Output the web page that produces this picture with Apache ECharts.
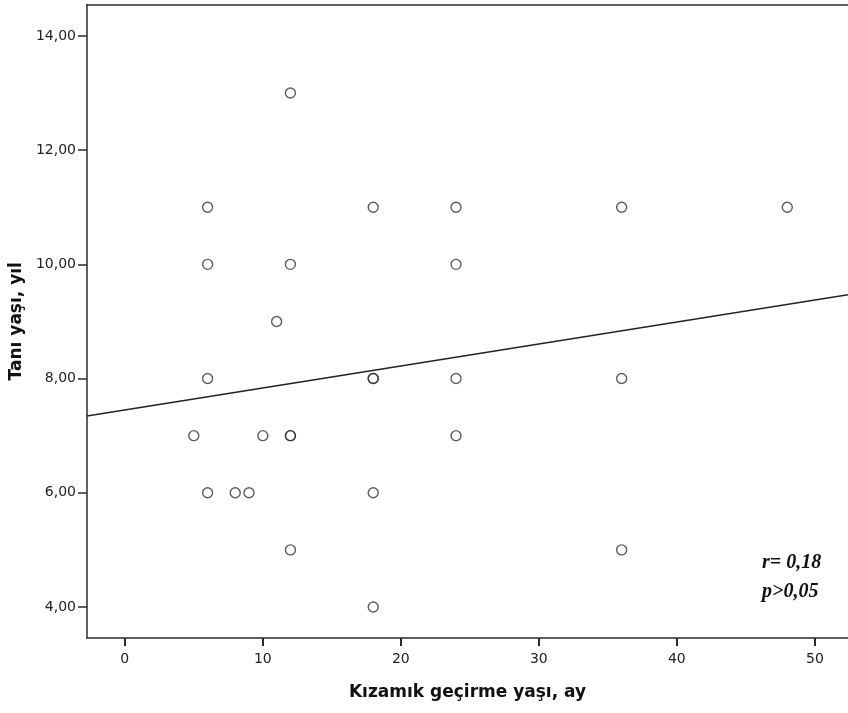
<!DOCTYPE html>
<html><head><meta charset="utf-8">
<script src="https://cdn.jsdelivr.net/npm/echarts@6/dist/echarts.min.js"></script>
<style>html,body{margin:0;padding:0;background:#fff}#c{width:848px;height:713px}</style>
</head><body><div id="c"></div>
<script>
const ageMonths = [6, 6, 6, 5, 6, 8, 9, 10, 11, 12, 12, 12, 12, 12, 18, 18, 18, 18, 18, 24, 24, 24, 24, 36, 36, 36, 48];
const diagAge   = [11, 10, 8, 7, 6, 6, 6, 7, 9, 13, 10, 7, 7, 5, 11, 8, 8, 6, 4, 11, 10, 8, 7, 11, 8, 5, 11];
const yTicks = [4, 6, 8, 10, 12, 14];
const xTicks = [0, 10, 20, 30, 40, 50];
const fitIntercept = 7.45;
const fitSlope = 0.0385;
const xMin = -2.74, xMax = 52.40, yMin = 3.457, yMax = 14.55;

const points = ageMonths.map((a, i) => [a, diagAge[i]]);
const fitLine = [[xMin, fitIntercept + fitSlope * xMin], [xMax, fitIntercept + fitSlope * xMax]];

const chart = echarts.init(document.getElementById('c'));
const axisCol = '#2b2b2b';
const labelFont = 'DejaVu Sans';
chart.setOption({
  animation: false,
  backgroundColor: '#fff',
  grid: {left: 86, top: 4.5, right: -3, bottom: 75, show: false},
  xAxis: [{
    type: 'value', min: xMin, max: xMax, position: 'bottom',
    name: 'Kızamık geçirme yaşı, ay', nameLocation: 'middle', nameGap: 46,
    nameTextStyle: {fontFamily: labelFont, fontWeight: 'bold', fontSize: 17, color: '#111'},
    splitLine: {show: false},
    axisLine: {show: true, onZero: false, lineStyle: {color: axisCol, width: 1.5}},
    axisTick: {show: true, length: 8, lineStyle: {color: axisCol, width: 2}, customValues: xTicks},
    axisLabel: {customValues: xTicks, fontFamily: labelFont, fontSize: 14, color: '#222', margin: 14,
      formatter: v => String(v)}
  }, {
    type: 'value', min: xMin, max: xMax, position: 'top',
    splitLine: {show: false},
    axisLine: {show: true, onZero: false, lineStyle: {color: axisCol, width: 1.5}},
    axisTick: {show: false}, axisLabel: {show: false}
  }],
  yAxis: {
    type: 'value', min: yMin, max: yMax,
    name: 'Tanı yaşı, yıl', nameLocation: 'middle', nameGap: 60, nameRotate: 90,
    nameTextStyle: {fontFamily: labelFont, fontWeight: 'bold', fontSize: 17, color: '#111'},
    splitLine: {show: false},
    axisLine: {show: true, onZero: false, lineStyle: {color: axisCol, width: 1.5}},
    axisTick: {show: true, length: 9, lineStyle: {color: axisCol, width: 1.5}, customValues: yTicks},
    axisLabel: {customValues: yTicks, fontFamily: labelFont, fontSize: 14, color: '#222', margin: 11,
      formatter: v => v.toFixed(2).replace('.', ',')}
  },
  series: [
    {type: 'line', data: fitLine, symbol: 'none', lineStyle: {color: '#222', width: 1.3}, silent: true, z: 1},
    {type: 'scatter', data: points, symbol: 'circle', symbolSize: 10,
     itemStyle: {color: 'rgba(255,255,255,0)', borderColor: '#333', borderWidth: 1.4}, z: 2}
  ],
  graphic: [
    {type: 'text', left: 762, top: 553, style: {text: 'r= 0,18', font: 'italic bold 20px "Liberation Serif"', fill: '#111'}},
    {type: 'text', left: 762, top: 582, style: {text: 'p>0,05', font: 'italic bold 20px "Liberation Serif"', fill: '#111'}}
  ]
});
</script>
</body></html>
